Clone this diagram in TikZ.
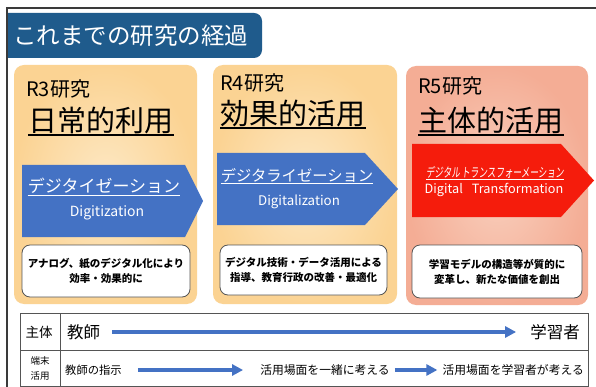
\documentclass[tikz,border=0pt]{standalone}
\usepackage{fontspec}
\setmainfont{Noto Sans CJK JP}
\newfontfamily\slantjp[FakeSlant=0.15]{Noto Sans CJK JP}
\usetikzlibrary{arrows.meta}
\definecolor{titleblue}{HTML}{1F5B8C}
\definecolor{orin}{HTML}{FDE8C4}
\definecolor{orout}{HTML}{FBD393}
\definecolor{rdin}{HTML}{F9D0BE}
\definecolor{rdout}{HTML}{F4AD95}
\definecolor{arrblue}{HTML}{4472C4}
\definecolor{arrred}{HTML}{F51C0C}
\definecolor{framec}{HTML}{3A3A3A}
\definecolor{boxline}{HTML}{555555}
\begin{document}
\begin{tikzpicture}[x=1pt,y=-1pt,
  fs/.style={font=\fontsize{#1}{#1}\selectfont},
  txt/.style={inner sep=0pt},
  wbox/.style={draw=boxline, fill=white, rounded corners=8pt, line width=0.8pt},
  wtext/.style={txt, align=center, font=\fontsize{10.5}{15}\selectfont\bfseries},
  uline/.style={line width=1.8pt},
  wline/.style={white, line width=1pt},
  tabarrow/.style={draw=arrblue, line width=3.2pt, -{Triangle[length=11pt,width=11pt]}},
  tabline/.style={draw=boxline, line width=0.8pt}]
\useasboundingbox (0,0) rectangle (596,387);
\fill[white] (0,0) rectangle (596,387);
% frame
\draw[framec, line width=1.5pt] (596,8) -- (7,8) -- (7,387);
% title
\fill[titleblue] (8,13) {[rounded corners=8pt] -- (262,13) -- (262,58)} -- (8,58) -- cycle;
\node[txt, fs=23.5, text=white, anchor=west] (title) at (13,36) {これまでの研究の経過};
% columns
\shade[inner color=orin, outer color=orout, rounded corners=10pt] (14,65) rectangle (197,304);
\shade[inner color=orin, outer color=orout, rounded corners=10pt] (213,65) rectangle (397,304);
\shade[inner color=rdin, outer color=rdout, rounded corners=10pt] (406,66) rectangle (588,305);
% headings
\node[txt, fs=20, anchor=west] (r3) at (26,89) {R3研究};
\node[txt, fs=29] (h1) at (101,120) {日常的利用};
\draw[uline] ([yshift=-1.5pt]h1.south west) -- ([yshift=-1.5pt]h1.south east);
\node[txt, fs=20, anchor=west] (r4) at (220,83) {R4研究};
\node[txt, fs=29] (h2) at (293,113) {効果的活用};
\draw[uline] ([yshift=-1.5pt]h2.south west) -- ([yshift=-1.5pt]h2.south east);
\node[txt, fs=20, anchor=west] (r5) at (418,86) {R5研究};
\node[txt, fs=29] (h3) at (491,120) {主体的活用};
\draw[uline] ([yshift=-1.5pt]h3.south west) -- ([yshift=-1.5pt]h3.south east);
% pentagon arrows
\fill[arrblue] (22,165) -- (185,165) -- (203,201) -- (185,237) -- (22,237) -- cycle;
\fill[arrblue] (217,153) -- (365,153) -- (398,189) -- (365,225) -- (217,225) -- cycle;
\fill[arrred] (412,144) -- (561,144) -- (594,180.5) -- (561,217) -- (412,217) -- cycle;
\node[txt, fs=17, text=white] (a1) at (104,186) {デジタイゼーション};
\draw[wline] ([yshift=-1.5pt]a1.south west) -- ([yshift=-1.5pt]a1.south east);
\node[txt, fs=14, text=white] (e1) at (107,213) {Digitization};
\node[txt, fs=15.3, text=white] (a2) at (297,175) {デジタライゼーション};
\draw[wline] ([yshift=-1.5pt]a2.south west) -- ([yshift=-1.5pt]a2.south east);
\node[txt, fs=13.3, text=white] (e2) at (299,202) {Digitalization};
\node[txt, text=white] (a3) at (495,172) {\scalebox{0.66}[1]{\fontsize{13}{13}\slantjp デジタル\,トランスフォーメーション}};
\draw[wline, line width=0.8pt] ([yshift=-1pt]a3.south west) -- ([yshift=-1pt]a3.south east);
\node[txt, fs=12.7, text=white] (e3) at (494,190) {Digital\hspace{9pt}Transformation};
% white boxes
\node[wbox, minimum width=168pt, minimum height=52pt] (b1) at (106,271) {};
\node[wbox, minimum width=167pt, minimum height=50pt] (b2) at (303.5,270) {};
\node[wbox, minimum width=170pt, minimum height=53pt] (b3) at (497,271.5) {};
\node[wtext] (t1) at (b1) {アナログ、紙のデジタル化により\\効率・効果的に};
\node[wtext] (t2) at (b2) {デジタル技術・データ活用による\\指導、教育行政の改善・最適化};
\node[wtext] (t3) at (b3) {学習モデルの構造等が質的に\\変革し、新たな価値を創出};
% table
\draw[tabline] (20,313) rectangle (588,386);
\draw[tabline] (60,313) -- (60,386);
\draw[tabline] (20,350) -- (588,350);
\node[txt, fs=13.5] (k1) at (39,332) {主体};
\node[txt, align=center, font=\fontsize{9.5}{15}\selectfont] (k2) at (40,368) {端末\\活用};
\node[txt, fs=16.5, anchor=west] (teach) at (67,332) {教師};
\node[txt, fs=16.5, anchor=east] (learn) at (580,332) {学習者};
\node[txt, fs=11.3, anchor=west] (s1) at (65,370) {教師の指示};
\node[txt, fs=11.8] (s2) at (325,370) {活用場面を一緒に考える};
\node[txt, fs=11.8, anchor=east] (s3) at (584,370) {活用場面を学習者が考える};
\draw[tabarrow, shorten <=12pt, shorten >=14pt] (teach.east) -- (learn.west |- teach.east);
\draw[tabarrow, shorten <=16pt, shorten >=17pt] (s1.east) -- (s2.west);
\draw[tabarrow, shorten <=5pt, shorten >=5pt] (s2.east) -- (s3.west);
\end{tikzpicture}
\end{document}
